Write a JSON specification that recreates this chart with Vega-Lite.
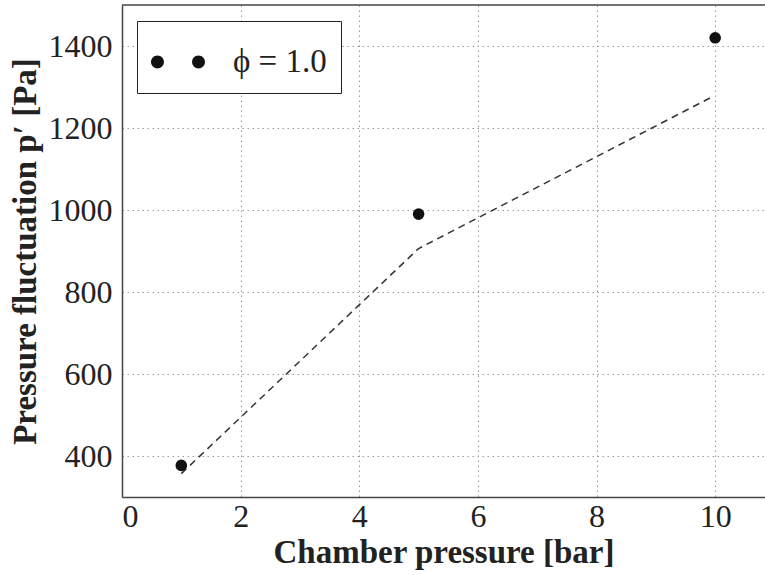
{
  "$schema": "https://vega.github.io/schema/vega-lite/v6.json",
  "width": 643,
  "height": 492,
  "autosize": {"type": "none"},
  "padding": {"left": 122, "top": 5, "right": 0, "bottom": 78},
  "background": "white",
  "datasets": {
    "points": [
      {"pressure": 1, "fluct": 377, "series": "ϕ = 1.0"},
      {"pressure": 5, "fluct": 990, "series": "ϕ = 1.0"},
      {"pressure": 10, "fluct": 1420, "series": "ϕ = 1.0"}
    ],
    "model": [
      {"pressure": 1, "fluct": 357},
      {"pressure": 5, "fluct": 906},
      {"pressure": 9.95, "fluct": 1276}
    ],
    "border": [{"top": 1500}]
  },
  "config": {
    "view": {"stroke": null},
    "font": "Liberation Serif",
    "axis": {
      "labelFont": "Liberation Serif",
      "titleFont": "Liberation Serif",
      "labelFontSize": 32,
      "labelColor": "#222",
      "titleColor": "#222",
      "titleFontWeight": "bold",
      "domainColor": "#444",
      "domainWidth": 1.5,
      "ticks": false,
      "grid": true,
      "gridColor": "#9a9a9a",
      "gridDash": [1.5, 3.5],
      "gridWidth": 1
    }
  },
  "layer": [
    {
      "data": {"name": "border"},
      "mark": {"type": "rule", "color": "#444", "strokeWidth": 1.5},
      "encoding": {"y": {"field": "top", "type": "quantitative"}}
    },
    {
      "data": {"name": "model"},
      "mark": {"type": "line", "color": "#333", "strokeWidth": 1.5, "strokeDash": [7, 5]},
      "encoding": {
        "x": {"field": "pressure", "type": "quantitative"},
        "y": {"field": "fluct", "type": "quantitative"}
      }
    },
    {
      "data": {"name": "points"},
      "mark": {"type": "point", "filled": true, "size": 135, "opacity": 1},
      "encoding": {
        "x": {
          "field": "pressure",
          "type": "quantitative",
          "scale": {"domain": [0, 10.84], "nice": false, "zero": false},
          "axis": {
            "values": [0, 2, 4, 6, 8, 10],
            "format": "d",
            "title": "Chamber pressure [bar]",
            "titleFontSize": 33,
            "labelPadding": 4,
            "titlePadding": 4
          }
        },
        "y": {
          "field": "fluct",
          "type": "quantitative",
          "scale": {"domain": [300, 1500], "nice": false, "zero": false},
          "axis": {
            "values": [400, 600, 800, 1000, 1200, 1400],
            "format": "d",
            "title": "Pressure fluctuation p′ [Pa]",
            "titleFontSize": 33,
            "labelPadding": 10,
            "titlePadding": 6
          }
        },
        "color": {
          "field": "series",
          "type": "nominal",
          "scale": {"range": ["#111111"]},
          "legend": {
            "title": null,
            "orient": "none",
            "legendX": 15,
            "legendY": 16,
            "strokeColor": "#222",
            "fillColor": "white",
            "padding": 14,
            "symbolType": "M -0.52,0 A 0.24,0.24 0 1,0 -1,0 A 0.24,0.24 0 1,0 -0.52,0 Z M 1,0 A 0.24,0.24 0 1,0 0.52,0 A 0.24,0.24 0 1,0 1,0 Z",
            "symbolSize": 2916,
            "symbolStrokeWidth": 0,
            "symbolFillColor": "#111111",
            "labelFont": "Liberation Serif",
            "labelFontSize": 33,
            "labelColor": "#222",
            "labelOffset": 28,
            "encode": {"legend": {"update": {"strokeWidth": {"value": 1.5}}}}
          }
        }
      }
    }
  ]
}
